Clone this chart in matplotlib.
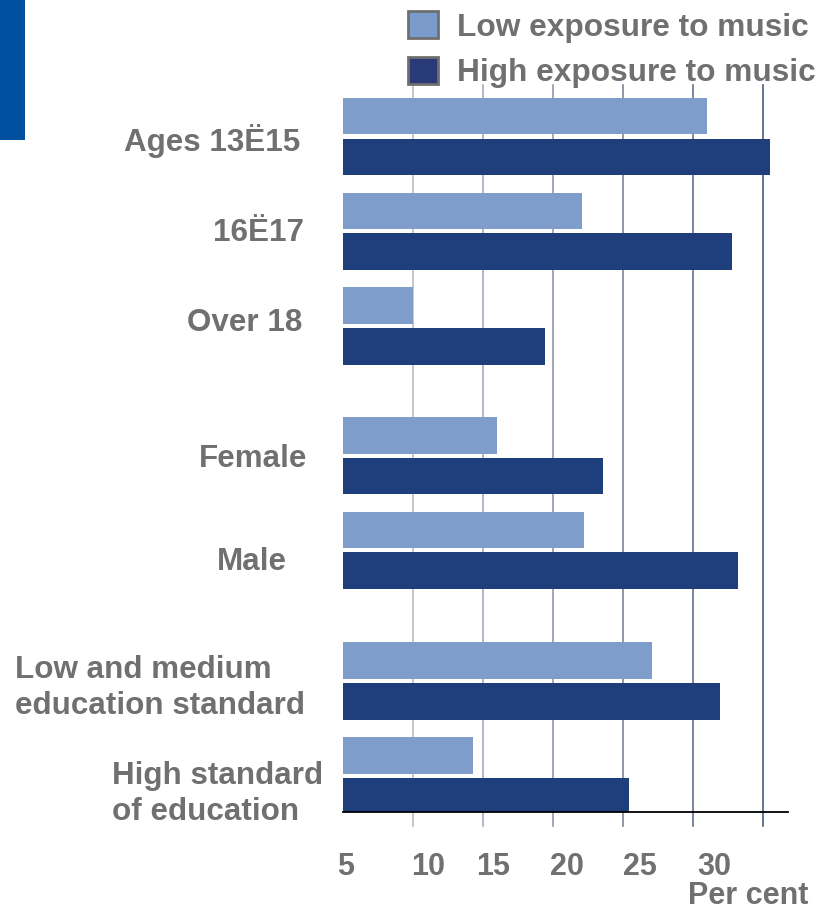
import matplotlib
matplotlib.use("Agg")
import matplotlib.pyplot as plt
from matplotlib.patches import Rectangle

# ---- data -------------------------------------------------------------
categories = ["Ages 13Ë15", "16Ë17", "Over 18", "Female", "Male",
              "Low and medium\neducation standard",
              "High standard\nof education"]
low_exposure = [31.0, 22.1, 10.0, 16.0, 22.2, 27.1, 14.3]
high_exposure = [35.5, 32.8, 19.4, 23.6, 33.2, 31.9, 25.4]
series_names = ["Low exposure to music", "High exposure to music"]
tick_values = [10, 15, 20, 25, 30, 35]
tick_labels = ["5", "10", "15", "20", "25", "30"]

# ---- style / layout ---------------------------------------------------
W, H = 823, 911
TEXT = "#707070"
LIGHT = "#7f9dcb"
DARK = "#1f3f7c"
FONT = "Liberation Sans"
FS = 22
FS_CAT = 22.6
FS_LEG = 22.8

plt.rcParams["font.family"] = [FONT, "DejaVu Sans"]
plt.rcParams["font.weight"] = "bold"

fig = plt.figure(figsize=(W / 100, H / 100), dpi=100)
fig.patch.set_facecolor("white")


def fx(px):
    return px / W


def fy(py):
    return 1 - py / H


ax = fig.add_axes([fx(343), fy(812), fx(788) - fx(343), fy(85) - fy(812)])

# group centres, with wider gaps between the three blocks
centres = [0, 1, 2, 3.37, 4.37, 5.75, 6.75]
off = 0.215
bh = 0.385
low_pos = [c - off for c in centres]
high_pos = [c + off for c in centres]

b_low = ax.barh(low_pos, [v - 5 for v in low_exposure], left=5, height=bh,
                color=LIGHT, zorder=3, label=series_names[0])
b_high = ax.barh(high_pos, [v - 5 for v in high_exposure], left=5, height=bh,
                 color=DARK, zorder=3, label=series_names[1])

ax.set_xlim(5, 5 + 445 / 14)
ax.set_ylim(7.133, -0.544)

# vertical grid lines, darkening towards the right, extending below the axis
grid_colors = ["#b7bdc8", "#a3abba", "#8f99ac", "#7a869c", "#64728c", "#4d5d7b"]
for v, c in zip(tick_values, grid_colors):
    ax.axvline(v, ymin=-0.019, ymax=1, color=c, lw=1.2, zorder=1,
               clip_on=False)

for s in ["top", "right", "left"]:
    ax.spines[s].set_visible(False)
ax.spines["bottom"].set_color("black")
ax.spines["bottom"].set_linewidth(1.3)
ax.spines["bottom"].set_zorder(4)
ax.set_xticks([])
ax.set_yticks([])

# x tick labels (baseline sits a little below the axis)
label_x = [5.2, 11.1, 15.7, 21.0, 26.2, 31.5]
label_y = (fy(875) - fy(812)) / (fy(85) - fy(812))
for x, t in zip(label_x, tick_labels):
    ax.text(x, label_y, t, transform=ax.get_xaxis_transform(), ha="center",
            va="baseline", fontsize=FS, color=TEXT, fontweight="bold")

fig.text(fx(748), fy(904), "Per cent", ha="center", va="baseline",
         fontsize=FS, color=TEXT, fontweight="bold")

# category labels
cat_anchor = [(300, 141, "right"), (304, 233, "right"), (302, 323, "right"),
              (307, 459, "right"), (287, 562, "right"),
              (15, 688, "left"), (112, 794, "left")]
for name, (px, py, ha) in zip(categories, cat_anchor):
    fig.text(fx(px), fy(py), name, ha=ha, va="center", fontsize=FS_CAT,
             color=TEXT, fontweight="bold", multialignment="left",
             linespacing=1.22)

# legend
leg = fig.legend(handles=[b_low, b_high], labels=series_names,
                 loc="upper left", bbox_to_anchor=(fx(408), fy(11)),
                 bbox_transform=fig.transFigure, frameon=False,
                 handlelength=0.95, handleheight=0.95,
                 handletextpad=0.6, labelspacing=0.45, borderpad=0,
                 borderaxespad=0, prop={"family": FONT, "weight": "bold",
                                        "size": FS_LEG})
for txt in leg.get_texts():
    txt.set_color(TEXT)
leg_cols = ["#7b9acc", "#283a78"]
for p, c in zip(leg.get_patches(), leg_cols):
    p.set_facecolor(c)
    p.set_edgecolor("#6f6f6f")
    p.set_linewidth(2)

# decorative block at the top-left corner
fig.add_artist(Rectangle((0, fy(140)), fx(25), fy(0) - fy(140),
                         transform=fig.transFigure, color="#0050a0", lw=0))

fig.savefig("out.png", dpi=100)
